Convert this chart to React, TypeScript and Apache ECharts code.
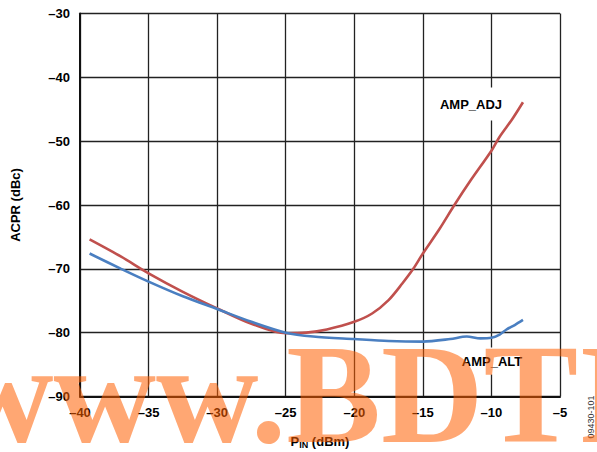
import React, { useEffect, useRef } from "react";
import * as echarts from "echarts";

const xTicks = { min: -40, max: -5, interval: 5 };
const yTicks = { min: -90, max: -30, interval: 10 };

const adjX = [-39.3, -37, -35, -32.5, -30, -27.5, -25, -23.5, -22, -20, -18.7, -17.5, -16.5, -15.7, -15, -13.8, -12.7, -11.5, -10, -9.4, -8.5, -7.7];
const adjY = [-65.4, -68.1, -70.7, -73.6, -76.2, -78.6, -80.1, -80.0, -79.5, -78.3, -77.0, -74.9, -72.3, -70.0, -67.6, -63.8, -60.0, -56.1, -51.5, -49.3, -46.6, -43.9];

const altX = [-39.3, -37, -35, -32.5, -30, -27.5, -25, -23, -20, -17.5, -15, -13, -11.8, -10.8, -10, -9.4, -8.9, -8.3, -7.7];
const altY = [-67.6, -70.0, -72.0, -74.3, -76.3, -78.3, -80.0, -80.6, -81.0, -81.3, -81.4, -81.0, -80.6, -80.9, -80.8, -80.3, -79.5, -78.8, -78.0];

const seriesNames = ["AMP_ADJ", "AMP_ALT"];
const xName = ["P", "IN", " (dBm)"];
const yName = "ACPR (dBc)";
const figId = "09430-101";
const watermark = "www.BDTIC.com";

const fmt = (v: number) => (v < 0 ? "\u2013" + Math.abs(v) : String(v));

export default function App() {
  const ref = useRef<HTMLDivElement>(null);
  useEffect(() => {
    if (!ref.current) return;
    const chart = echarts.init(ref.current, undefined, { renderer: "svg" });
    const font = "Arial, 'Liberation Sans', Helvetica, sans-serif";
    chart.setOption({
      animation: false,
      backgroundColor: "#ffffff",
      grid: { left: 80, right: 37, top: 13.5, bottom: 55.5, containLabel: false },
      xAxis: {
        type: "value",
        min: xTicks.min,
        max: xTicks.max,
        interval: xTicks.interval,
        axisLine: { show: true, onZero: false, lineStyle: { color: "#111", width: 2 } },
        axisTick: { show: false },
        splitLine: { show: true, lineStyle: { color: "#222", width: 1.3 } },
        axisLabel: { formatter: fmt, color: "#000", fontWeight: "bold", fontSize: 13, fontFamily: font, margin: 9 },
      },
      yAxis: {
        type: "value",
        min: yTicks.min,
        max: yTicks.max,
        interval: yTicks.interval,
        name: yName,
        nameLocation: "middle",
        nameRotate: 90,
        nameGap: 58,
        nameTextStyle: { color: "#000", fontWeight: "bold", fontSize: 13, fontFamily: font },
        axisLine: { show: true, onZero: false, lineStyle: { color: "#111", width: 2 } },
        axisTick: { show: false },
        splitLine: { show: true, lineStyle: { color: "#222", width: 1.3 } },
        axisLabel: { formatter: fmt, color: "#000", fontWeight: "bold", fontSize: 13, fontFamily: font, margin: 10 },
      },
      series: [
        {
          name: seriesNames[0],
          type: "line",
          data: adjX.map((x, i) => [x, adjY[i]]),
          smooth: 0.3,
          showSymbol: false,
          lineStyle: { color: "#c0504d", width: 2.6 },
          z: 3,
        },
        {
          name: seriesNames[1],
          type: "line",
          data: altX.map((x, i) => [x, altY[i]]),
          smooth: 0.3,
          showSymbol: false,
          lineStyle: { color: "#4a7fc1", width: 2.6 },
          z: 4,
        },
      ],
      graphic: [
        {
          type: "text",
          x: 471,
          y: 104,
          z: 10,
          style: {
            text: seriesNames[0],
            font: `bold 13px ${font}`,
            fill: "#000",
            align: "center",
            verticalAlign: "middle",
            backgroundColor: "#fff",
            padding: [10, 3, 10, 3],
          },
        },
        {
          type: "text",
          x: 492,
          y: 361,
          z: 10,
          style: {
            text: seriesNames[1],
            font: `bold 13px ${font}`,
            fill: "#000",
            align: "center",
            verticalAlign: "middle",
            backgroundColor: "#fff",
            padding: [7, 3, 7, 3],
          },
        },
        {
          type: "text",
          x: 320,
          y: 441,
          z: 10,
          style: {
            text: `{p|${xName[0]}}{s|${xName[1]}}{p|${xName[2]}}`,
            align: "center",
            verticalAlign: "middle",
            rich: {
              p: { font: `bold 13px ${font}`, fill: "#000", lineHeight: 16 },
              s: { font: `bold 9px ${font}`, fill: "#000", lineHeight: 16, padding: [8, 0, 0, 0] },
            },
          },
        },
        {
          type: "text",
          x: 591,
          y: 417,
          rotation: Math.PI / 2,
          z: 10,
          style: {
            text: figId,
            font: `9px ${font}`,
            fill: "#333",
            align: "center",
            verticalAlign: "middle",
          },
        },
        {
          type: "text",
          x: -49,
          y: 394,
          z: 100,
          silent: true,
          style: {
            text: watermark,
            font: `bold 142px "Liberation Serif", "Times New Roman", serif`,
            fill: "#ff5f00",
            opacity: 0.55,
            align: "left",
            verticalAlign: "middle",
          },
        },
      ],
    });
    return () => chart.dispose();
  }, []);
  return <div ref={ref} style={{ width: 597, height: 452, position: "absolute", left: 0, top: 0 }} />;
}
